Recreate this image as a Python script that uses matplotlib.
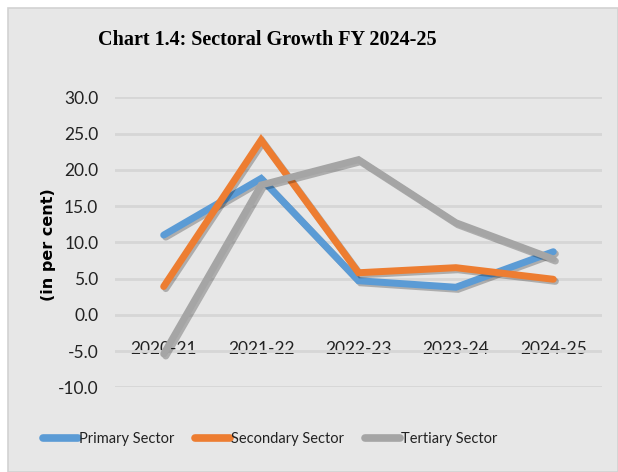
import matplotlib
matplotlib.use("Agg")
import matplotlib.pyplot as plt
import matplotlib.patheffects as pe
from matplotlib.patches import Rectangle

categories = ["2020-21", "2021-22", "2022-23", "2023-24", "2024-25"]
primary = [11.0, 18.8, 4.7, 3.8, 8.7]
secondary = [3.9, 24.1, 5.8, 6.5, 4.9]
tertiary = [-5.4, 17.9, 21.4, 12.7, 7.7]
yticks = [-10, -5, 0, 5, 10, 15, 20, 25, 30]

W, H = 618, 472
fig = plt.figure(figsize=(W / 100, H / 100), dpi=100)
fig.patch.set_facecolor("white")
bg = "#E7E7E7"
fig.patches.append(Rectangle((8 / W, 0), 1 - 8 / W, 1 - 8 / H, transform=fig.transFigure,
                             facecolor=bg, edgecolor="#D2D2D2", linewidth=1.2, zorder=-10))

narrow = ["Lato", "DejaVu Sans"]

ax = fig.add_axes([115 / W, 1 - 387.3 / H, 487 / W, (387.3 - 97.3) / H])
ax.set_zorder(1)
ax.patch.set_alpha(0)
x = list(range(len(categories)))
shadow = [pe.SimpleLineShadow(offset=(1.5, -1.5), shadow_color="black", alpha=0.25), pe.Normal()]
series = [(primary, "#5B9BD5", "Primary Sector"),
          (secondary, "#ED7D31", "Secondary Sector"),
          (tertiary, "#A5A5A5", "Tertiary Sector")]
lines = []
for vals, col, lab in series:
    ln, = ax.plot(x, vals, color=col, lw=5, solid_capstyle="round", solid_joinstyle="miter",
                  label=lab, path_effects=shadow, zorder=3)
    lines.append(ln)

ax.set_xlim(-0.5, len(categories) - 0.5)
ax.set_ylim(-10, 30)
ax.set_yticks(yticks)
ax.set_yticklabels([f"{v:.1f}" for v in yticks], family=narrow, fontsize=12.5, color="#222222")
ax.yaxis.grid(True, color="#D6D6D6", lw=2)
ax.set_axisbelow(True)
for s in ["top", "right", "left"]:
    ax.spines[s].set_visible(False)
ax.spines["bottom"].set_position(("data", 0))
ax.spines["bottom"].set_visible(False)
ax.set_xticks(x)
ax.set_xticklabels(categories, family=narrow, fontsize=12.5, color="#222222")
ax.tick_params(axis="x", length=0, pad=19)
ax.tick_params(axis="y", length=0, pad=12)
ax.set_ylabel("(in per cent)", fontsize=11.5, fontweight="bold", family="DejaVu Sans")
ax.yaxis.set_label_coords((56 - 115) / 487, (387.3 - 245) / 290)

fig.text(267 / W, 1 - 40 / H, "Chart 1.4: Sectoral Growth FY 2024-25", ha="center", va="center",
         family="Liberation Serif", fontweight="bold", fontsize=14.5, color="black")

leg = fig.legend(handles=lines, loc="center", bbox_to_anchor=(270 / W, 1 - 439 / H), ncol=3,
                 frameon=False, prop={"family": narrow, "size": 10.5}, handlelength=2.4,
                 handletextpad=0.1, columnspacing=1.4)
for t in leg.get_texts():
    t.set_color("#222222")
for h in leg.legend_handles:
    h.set_path_effects([])
    h.set_linewidth(5.5)

fig.savefig("out.png", dpi=100, facecolor=fig.get_facecolor())
